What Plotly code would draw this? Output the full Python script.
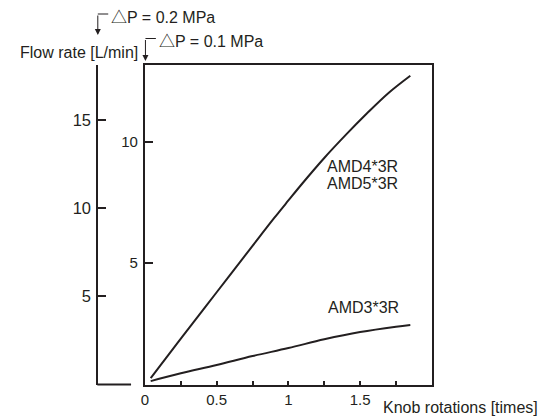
import plotly.graph_objects as go

# ---- data ----
rotations_amd45 = [0.04, 0.25, 0.5, 0.75, 0.9, 1.0, 1.1, 1.25, 1.4, 1.55, 1.7, 1.85]
flow_amd45 = [0.26, 1.89, 3.8, 5.71, 6.85, 7.58, 8.3, 9.33, 10.28, 11.18, 12.02, 12.72]
rotations_amd3 = [0.04, 0.25, 0.5, 0.75, 1.0, 1.25, 1.5, 1.75, 1.85]
flow_amd3 = [0.14, 0.46, 0.8, 1.17, 1.5, 1.86, 2.16, 2.38, 2.45]

x_tickvals = [0, 0.5, 1, 1.5]
x_ticktext = ["0", "0.5", "1", "1.5"]
y_inner_ticks = [5, 10]          # ΔP = 0.1 MPa scale
y_outer_ticks = [5, 10, 15]      # ΔP = 0.2 MPa scale

W, H = 544, 419
INK = "#231f20"
FONT = "Liberation Sans, Arial, Helvetica, sans-serif"
TRI = '<span style="font-family:\'Noto Sans CJK JP\'">△</span>'

def px(x):
    return x / W

def py(y):
    return (H - y) / H

fig = go.Figure()
fig.add_trace(go.Scatter(x=rotations_amd45, y=flow_amd45, mode="lines",
                         line=dict(color=INK, width=2, shape="spline", smoothing=1.0),
                         showlegend=False, hoverinfo="skip"))
fig.add_trace(go.Scatter(x=rotations_amd3, y=flow_amd3, mode="lines",
                         line=dict(color=INK, width=2, shape="spline", smoothing=1.0),
                         showlegend=False, hoverinfo="skip"))

x0, x1 = px(142), px(431)
y0, y1 = py(384.5), py(65)

fig.update_layout(
    width=W, height=H,
    margin=dict(l=0, r=0, t=0, b=0),
    paper_bgcolor="white", plot_bgcolor="white",
    font=dict(family=FONT, size=15, color=INK),
    xaxis=dict(domain=[x0, x1], range=[0, 2], showgrid=False, zeroline=False,
               showline=True, linecolor=INK, linewidth=2, mirror=True,
               tickvals=x_tickvals, ticktext=x_ticktext,
               ticks="inside", ticklen=4, tickwidth=1.5, tickcolor=INK,
               minor=dict(dtick=0.25, tick0=0, ticks="inside", ticklen=4,
                          tickwidth=1.5, tickcolor=INK, showgrid=False),
               tickfont=dict(size=15, color=INK)),
    yaxis=dict(domain=[y0, y1], range=[0, 13.16], showgrid=False, zeroline=False,
               showline=True, linecolor=INK, linewidth=2, mirror=True,
               tickvals=y_inner_ticks, ticks="inside", ticklen=8, tickwidth=1.5,
               tickcolor=INK, tickfont=dict(size=15, color=INK),
               ticklabelstandoff=2),
    yaxis2=dict(overlaying="y", anchor="free", position=px(94), side="left",
                range=[0, 18.15], showgrid=False, zeroline=False,
                showline=True, linecolor=INK, linewidth=2,
                tickvals=y_outer_ticks, ticks="inside", ticklen=8, tickwidth=1.5,
                tickcolor=INK, tickfont=dict(size=16.5, color=INK),
                ticklabelstandoff=2),
)

# dummy trace to activate yaxis2
fig.add_trace(go.Scatter(x=[None], y=[None], yaxis="y2", showlegend=False,
                         hoverinfo="skip"))

shapes = [
    # outer axis short base line
    dict(type="line", xref="paper", yref="paper", x0=px(94), x1=px(128),
         y0=py(384.5), y1=py(384.5), line=dict(color=INK, width=2)),
    # bracket horizontals
    dict(type="line", xref="paper", yref="paper", x0=px(94.5), x1=px(105),
         y0=py(14), y1=py(14), line=dict(color=INK, width=1)),
    dict(type="line", xref="paper", yref="paper", x0=px(142.5), x1=px(153),
         y0=py(38.5), y1=py(38.5), line=dict(color=INK, width=1)),
]
fig.update_layout(shapes=shapes)

ann = []
# bracket arrows
ann.append(dict(xref="paper", yref="paper", x=px(94.5), y=py(35), ax=0, ay=-21,
                text="", showarrow=True, arrowhead=2, arrowsize=1.2,
                arrowwidth=1, arrowcolor=INK))
ann.append(dict(xref="paper", yref="paper", x=px(142.5), y=py(61), ax=0, ay=-22.5,
                text="", showarrow=True, arrowhead=2, arrowsize=1.2,
                arrowwidth=1, arrowcolor=INK))
# labels
ann.append(dict(xref="paper", yref="paper", x=px(106), y=py(16), xanchor="left",
                yanchor="middle", text=TRI + "P = 0.2 MPa", showarrow=False,
                font=dict(size=16)))
ann.append(dict(xref="paper", yref="paper", x=px(154), y=py(40.5), xanchor="left",
                yanchor="middle", text=TRI + "P = 0.1 MPa", showarrow=False,
                font=dict(size=16)))
ann.append(dict(xref="paper", yref="paper", x=px(14), y=py(52), xanchor="left",
                yanchor="middle", text="Flow rate [L/min]", showarrow=False,
                font=dict(size=16)))
ann.append(dict(xref="paper", yref="paper", x=px(380), y=py(407), xanchor="left",
                yanchor="middle", text="Knob rotations [times]", showarrow=False,
                font=dict(size=16)))
# series labels (data coordinates)
ann.append(dict(xref="x", yref="y", x=1.52, y=9.0, text="AMD4*3R",
                showarrow=False, font=dict(size=16)))
ann.append(dict(xref="x", yref="y", x=1.52, y=8.27, text="AMD5*3R",
                showarrow=False, font=dict(size=16)))
ann.append(dict(xref="x", yref="y", x=1.525, y=3.16, text="AMD3*3R",
                showarrow=False, font=dict(size=16)))
fig.update_layout(annotations=ann)

fig.write_html("out.html", config={"displayModeBar": False},
               post_script="document.body.style.margin='0';document.body.style.overflow='hidden';")
